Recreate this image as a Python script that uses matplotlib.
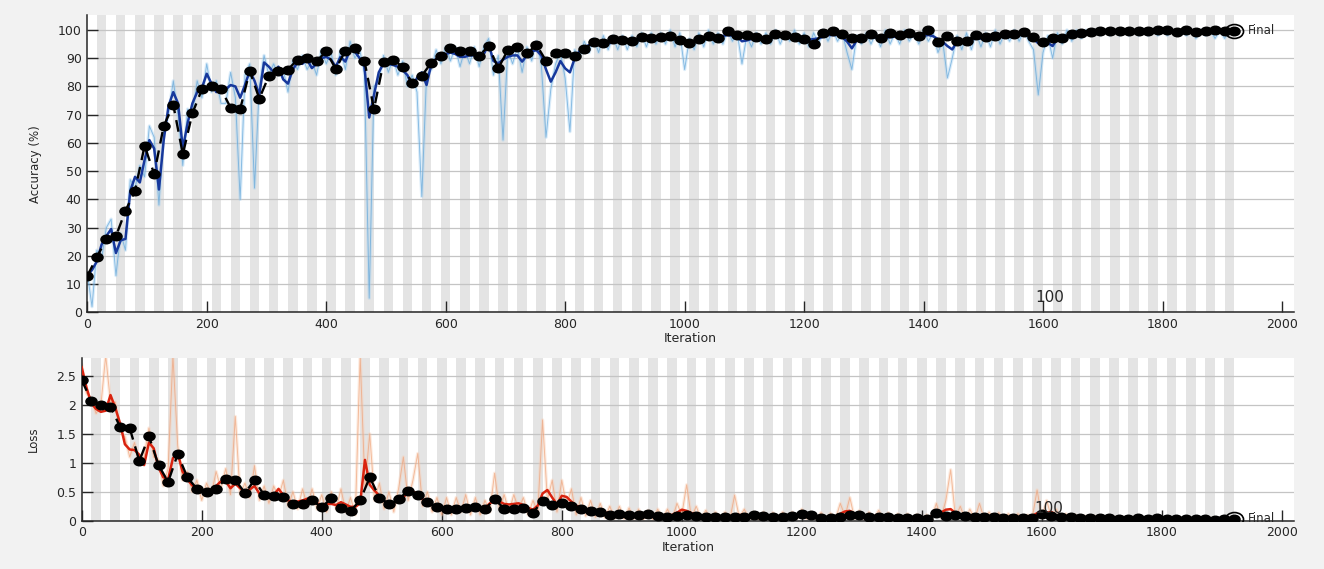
import numpy as np
import matplotlib.pyplot as plt
from matplotlib.path import Path

plt.rcParams['font.family'] = ['DejaVu Sans']

iters_per_epoch = 16
n_epochs = 120
train_step = 8
val_step = 16
epoch_label = 100

# smoothed training accuracy, one value every 8 iterations
acc_smooth = [
    13, 15, 18, 24, 27, 29.5, 21, 25.5, 26, 43,
    48, 46, 54, 61, 58, 43.5, 61, 73, 78, 74,
    58, 67, 74, 78, 79.5, 84.5, 81, 78, 78.5, 79,
    80.5, 80, 76, 80.5, 85.5, 82, 77, 88.5, 87, 85,
    87, 82.5, 81, 86, 88.5, 88, 89.5, 86.5, 88, 90,
    90.5, 89.5, 87, 90.5, 88.8, 93, 92.3, 90, 87, 69,
    77, 85, 88.2, 88, 87.6, 87, 85.8, 84, 80, 83,
    85, 80.5, 88, 89.8, 90.5, 91.5, 92, 91.5, 90.5, 90.5,
    91, 91, 91, 91.5, 95, 89, 88.2, 89.5, 90.5, 91,
    91, 88.8, 91, 92.5, 92.8, 91, 86, 81.7, 85, 89,
    86.4, 85, 90, 92.5, 93.8, 94.7, 94.7, 94.7, 95, 95.3,
    95.5, 95.9, 95.8, 95.5, 95.3, 96.2, 96.5, 96.8, 97, 97.2,
    97.4, 97.6, 97.3, 96.8, 96.5, 96, 95.3, 95.8, 96.5, 96.8,
    97.1, 97.3, 97.6, 97.9, 98.2, 98, 97.6, 96, 96.3, 96.8,
    97, 97, 97, 97.3, 97.6, 97.6, 97.6, 97.6, 97.6, 97.4,
    96.8, 96.5, 96.8, 97, 97.6, 98.2, 98.2, 98.2, 97.5, 95.9,
    93.5, 96.3, 97.3, 97.6, 97.4, 97.3, 97, 97.2, 97.5, 97.6,
    97.7, 97.8, 97.8, 97.8, 97.8, 98, 98.2, 97.8, 96.8, 95.8,
    94.3, 93.1, 95.9, 96.1, 96.2, 96.6, 97, 97, 97, 97.3,
    97.6, 97.7, 97.8, 97.9, 98.1, 98.3, 98.5, 98.4, 96.8, 95.3,
    94.7, 95.5, 94.3, 97, 97.4, 97.8, 98.4, 98.7, 99, 99.1,
    99.2, 99.3, 99.3, 99.4, 99.4, 99.5, 99.5, 99.4, 99.5, 99.5,
    99.6, 99.5, 99.5, 99.6, 99.6, 99.6, 99.7, 99.6, 99.6, 99.6,
    99.7, 99.6, 99.6, 99.7, 99.7, 99.7, 99.6, 99.7, 99.7, 99.7,
    99.7,
]

# raw training accuracy, one value every 8 iterations
acc_raw = [
    14, 2, 22, 19, 30, 33, 13, 28, 22, 47,
    44, 52, 48, 66, 62, 38, 64, 70, 82, 70,
    52, 72, 70, 82, 76, 88, 78, 82, 74, 74,
    85, 76, 40, 84, 88, 44, 80, 91, 84, 88,
    84, 86, 78, 89, 86, 91, 86, 89, 84, 93,
    88, 92, 84, 93, 86, 96, 90, 93, 85, 5,
    80, 82, 91, 85, 90, 84, 89, 80, 84, 78,
    41, 84, 86, 93, 88, 94, 89, 94, 87, 93,
    88, 94, 87, 94, 97, 84, 91, 61, 93, 88,
    94, 85, 94, 89, 96, 88, 62, 79, 88, 92,
    83, 64, 93, 90, 96, 92, 97, 92, 98, 93,
    98, 93, 98, 93, 98, 94, 99, 94, 99, 95,
    99, 95, 100, 94, 99, 86, 97, 93, 99, 94,
    100, 95, 99, 95, 100, 96, 99, 88, 98, 94,
    99, 95, 99, 95, 100, 95, 99, 96, 100, 95,
    99, 94, 99, 95, 100, 96, 100, 96, 99, 92,
    86, 98, 95, 99, 95, 99, 94, 100, 95, 99,
    95, 100, 96, 99, 95, 100, 96, 99, 92, 96,
    83, 90, 98, 93, 99, 93, 99, 94, 99, 94,
    100, 95, 99, 96, 100, 96, 100, 96, 93, 77,
    92, 98, 90, 99, 95, 100, 96, 100, 97, 100,
    98, 100, 98, 100, 98, 100, 98, 100, 98, 100,
    98, 100, 98, 100, 98, 100, 98, 100, 98, 100,
    98, 100, 97, 100, 98, 100, 97, 100, 97, 100,
    99,
]

# validation accuracy, once per epoch
val_acc = [
    12.9, 19.5, 26, 27, 36, 43, 59, 49, 66, 73.5,
    56, 70.5, 79, 80, 79, 72.5, 72, 85.5, 75.7, 83.7,
    85.5, 86, 89.5, 90, 89, 92.4, 86.2, 92.6, 93.5, 89,
    72, 88.7, 89.4, 87, 81.2, 83.8, 88.4, 90.9, 93.7, 92.7,
    92.5, 90.9, 94.3, 86.4, 92.9, 94.1, 91.7, 94.7, 89.1, 92,
    92, 90.9, 93.1, 95.8, 95.3, 96.8, 96.4, 96.1, 97.6, 97,
    97.6, 97.8, 96.4, 95.5, 96.8, 97.9, 97.3, 99.7, 98.3, 98.4,
    97.4, 96.7, 98.5, 98.2, 97.6, 96.8, 95.2, 98.9, 99.5, 98.5,
    97.2, 97.1, 98.5, 97.2, 98.8, 98.2, 98.8, 97.9, 99.9, 95.9,
    97.9, 96.1, 96.2, 98.2, 97.6, 97.9, 98.6, 98.6, 99.4, 97.4,
    95.6, 97.2, 97.2, 98.6, 99.1, 99.4, 99.7, 99.7, 99.7, 99.6,
    99.7, 99.7, 99.9, 100, 99.3, 100, 99.3, 99.6, 100, 99.7,
    99.7,
]

loss_smooth = [
    2.65, 2.3, 2.03, 1.93, 1.88, 1.9, 2.17, 1.95, 1.68, 1.32,
    1.23, 1.22, 1.14, 0.96, 1.35, 1.25, 0.92, 0.75, 0.71, 1.08,
    1.17, 0.85, 0.72, 0.61, 0.55, 0.52, 0.5, 0.52, 0.6, 0.68,
    0.68, 0.56, 0.64, 0.56, 0.5, 0.54, 0.6, 0.47, 0.44, 0.44,
    0.44, 0.55, 0.44, 0.35, 0.33, 0.33, 0.35, 0.38, 0.36, 0.3,
    0.27, 0.29, 0.29, 0.27, 0.32, 0.28, 0.24, 0.24, 0.3, 1.05,
    0.62, 0.52, 0.43, 0.34, 0.27, 0.31, 0.36, 0.39, 0.53, 0.5,
    0.46, 0.37, 0.32, 0.27, 0.25, 0.23, 0.22, 0.21, 0.22, 0.23,
    0.24, 0.24, 0.23, 0.23, 0.21, 0.3, 0.35, 0.33, 0.29, 0.28,
    0.29, 0.3, 0.27, 0.22, 0.19, 0.26, 0.47, 0.53, 0.4, 0.28,
    0.43, 0.41, 0.33, 0.26, 0.22, 0.2, 0.19, 0.17, 0.15, 0.14,
    0.13, 0.12, 0.12, 0.11, 0.11, 0.1, 0.09, 0.08, 0.08, 0.08,
    0.08, 0.09, 0.09, 0.1, 0.14, 0.19, 0.17, 0.13, 0.11, 0.09,
    0.08, 0.08, 0.07, 0.07, 0.06, 0.07, 0.08, 0.1, 0.09, 0.08,
    0.07, 0.07, 0.07, 0.06, 0.06, 0.07, 0.07, 0.07, 0.07, 0.08,
    0.09, 0.08, 0.07, 0.07, 0.06, 0.06, 0.06, 0.07, 0.12, 0.16,
    0.17, 0.11, 0.08, 0.07, 0.07, 0.08, 0.08, 0.07, 0.07, 0.06,
    0.06, 0.06, 0.06, 0.06, 0.05, 0.05, 0.05, 0.08, 0.11, 0.14,
    0.19, 0.2, 0.13, 0.1, 0.09, 0.09, 0.08, 0.08, 0.07, 0.07,
    0.07, 0.06, 0.06, 0.06, 0.05, 0.05, 0.05, 0.05, 0.08, 0.13,
    0.15, 0.14, 0.15, 0.09, 0.07, 0.06, 0.05, 0.05, 0.04, 0.04,
    0.04, 0.04, 0.04, 0.04, 0.03, 0.04, 0.04, 0.03, 0.04, 0.03,
    0.03, 0.04, 0.03, 0.03, 0.03, 0.03, 0.03, 0.03, 0.03, 0.03,
    0.03, 0.03, 0.03, 0.03, 0.03, 0.03, 0.03, 0.03, 0.03, 0.03,
    0.03,
]

loss_raw = [
    2.7, 2.2, 2.1, 1.85, 2.0, 2.85, 2.05, 2.05, 1.55, 1.45,
    1.1, 1.35, 1.0, 1.1, 1.6, 1.1, 1.05, 0.6, 0.9, 2.85,
    1.3, 0.7, 0.85, 0.5, 0.7, 0.35, 0.65, 0.45, 0.85, 0.55,
    0.9, 0.45, 1.8, 0.45, 0.65, 0.4, 0.95, 0.35, 0.6, 0.3,
    0.6, 0.4, 0.7, 0.25, 0.5, 0.2, 0.55, 0.25, 0.55, 0.2,
    0.45, 0.15, 0.5, 0.2, 0.55, 0.15, 0.4, 0.1, 2.85, 0.6,
    1.5, 0.35, 0.65, 0.2, 0.5, 0.15, 0.55, 1.1, 0.35, 0.7,
    1.16, 0.25, 0.5, 0.15, 0.4, 0.1, 0.4, 0.1, 0.4, 0.15,
    0.45, 0.1, 0.4, 0.1, 0.35, 0.15, 0.82, 0.2, 0.45, 0.15,
    0.45, 0.2, 0.4, 0.1, 0.35, 0.15, 1.74, 0.35, 0.7, 0.15,
    0.7, 0.25, 0.55, 0.1, 0.4, 0.08, 0.35, 0.06, 0.3, 0.05,
    0.25, 0.04, 0.25, 0.03, 0.22, 0.03, 0.2, 0.02, 0.18, 0.02,
    0.2, 0.03, 0.2, 0.03, 0.3, 0.1, 0.62, 0.05, 0.25, 0.03,
    0.18, 0.02, 0.15, 0.02, 0.15, 0.02, 0.44, 0.05, 0.2, 0.02,
    0.15, 0.02, 0.15, 0.02, 0.14, 0.02, 0.15, 0.02, 0.15, 0.03,
    0.2, 0.03, 0.15, 0.02, 0.14, 0.02, 0.13, 0.02, 0.3, 0.08,
    0.4, 0.03, 0.18, 0.02, 0.15, 0.02, 0.18, 0.02, 0.14, 0.02,
    0.12, 0.01, 0.12, 0.01, 0.11, 0.01, 0.1, 0.02, 0.3, 0.05,
    0.35, 0.88, 0.05, 0.25, 0.02, 0.2, 0.02, 0.3, 0.02, 0.15,
    0.01, 0.14, 0.01, 0.12, 0.01, 0.12, 0.01, 0.1, 0.05, 0.53,
    0.05, 0.35, 0.05, 0.2, 0.02, 0.12, 0.01, 0.1, 0.01, 0.08,
    0.01, 0.08, 0.01, 0.07, 0.01, 0.07, 0.01, 0.06, 0.01, 0.06,
    0.01, 0.05, 0.01, 0.05, 0.01, 0.05, 0.01, 0.05, 0.01, 0.05,
    0.01, 0.05, 0.01, 0.05, 0.01, 0.05, 0.01, 0.05, 0.01, 0.05,
    0.03,
]

val_loss = [
    2.43, 2.07, 1.99, 1.97, 1.62, 1.60, 1.03, 1.46, 0.96, 0.67,
    1.15, 0.75, 0.55, 0.49, 0.55, 0.72, 0.70, 0.48, 0.70, 0.44,
    0.42, 0.41, 0.29, 0.29, 0.35, 0.23, 0.39, 0.22, 0.17, 0.35,
    0.75, 0.40, 0.29, 0.37, 0.52, 0.44, 0.32, 0.24, 0.21, 0.21,
    0.22, 0.23, 0.20, 0.37, 0.21, 0.21, 0.22, 0.14, 0.34, 0.27,
    0.31, 0.26, 0.20, 0.17, 0.15, 0.09, 0.12, 0.10, 0.09, 0.11,
    0.08, 0.07, 0.08, 0.10, 0.08, 0.07, 0.06, 0.06, 0.07, 0.07,
    0.09, 0.08, 0.06, 0.07, 0.08, 0.11, 0.10, 0.05, 0.05, 0.06,
    0.10, 0.09, 0.06, 0.06, 0.07, 0.05, 0.04, 0.04, 0.03, 0.13,
    0.08, 0.09, 0.08, 0.07, 0.06, 0.06, 0.05, 0.05, 0.04, 0.05,
    0.11, 0.08, 0.07, 0.06, 0.05, 0.04, 0.04, 0.04, 0.03, 0.03,
    0.04, 0.03, 0.04, 0.03, 0.03, 0.03, 0.03, 0.03, 0.02, 0.03,
    0.03,
]

acc_ticks = list(range(0, 101, 10))
loss_ticks = [0, 0.5, 1, 1.5, 2, 2.5]
loss_tick_labels = ['0', '0.5', '1', '1.5', '2', '2.5']
iter_ticks = list(range(0, 2001, 200))

it_train = np.arange(len(acc_smooth)) * train_step
it_val = np.arange(len(val_acc)) * val_step
last_iter = n_epochs * iters_per_epoch

txt = '#262626'

# the screenshot is stretched sideways, so the dots come out as ellipses
circ = Path.unit_circle()
dot = Path(circ.vertices * np.array([1.3, 1.0]), circ.codes)

fig = plt.figure(figsize=(13.24, 5.69), dpi=100, facecolor='#f2f2f2')
ax1 = fig.add_axes([0.0659, 0.4511, 0.9114, 0.5225])
ax2 = fig.add_axes([0.0617, 0.0849, 0.9156, 0.2854])


def setup(ax, ymax, ticks, labels):
    ax.set_facecolor('white')
    for k in range(1, n_epochs, 2):
        ax.axvspan(k * iters_per_epoch, (k + 1) * iters_per_epoch,
                   color='#e4e4e4', lw=0, zorder=0.2)
    ax.set_xlim(0, 2020)
    ax.set_ylim(0, ymax)
    ax.set_xticks(iter_ticks)
    ax.set_yticks(ticks)
    ax.set_yticklabels(labels)
    ax.grid(axis='y', color='#c4c4c4', lw=0.9)
    ax.set_axisbelow(True)
    for s in ['top', 'right']:
        ax.spines[s].set_visible(False)
    for s in ['left', 'bottom']:
        ax.spines[s].set_color(txt)
        ax.spines[s].set_linewidth(1.1)
    ax.tick_params(direction='in', length=8, width=1, colors=txt,
                   labelsize=9, pad=4)
    ax.set_xlabel('Iteration', fontsize=9, color=txt)


setup(ax1, 105.3, acc_ticks, [str(t) for t in acc_ticks])
setup(ax2, 2.805, loss_ticks, loss_tick_labels)

# accuracy
ax1.plot(it_train, acc_raw, color='#a6d0f0', lw=2.4, alpha=0.4, zorder=2)
ax1.plot(it_train, acc_raw, color='#5aa2d8', lw=0.7, alpha=0.65, zorder=2)
ax1.plot(it_train, acc_smooth, color='#17389c', lw=1.8, zorder=3)
ax1.plot(it_val, val_acc, color='black', lw=1.7, ls=(0, (5, 3)),
         marker=dot, ms=8, zorder=4)
ax1.plot(last_iter, val_acc[-1], marker=dot, ms=13, mfc='none', mec='black',
         mew=1.2, ls='none', zorder=5)
ax1.annotate('Final', (last_iter, val_acc[-1]), xytext=(10, 0),
             textcoords='offset points', va='center', fontsize=8.5, color=txt)
ax1.text(epoch_label * iters_per_epoch - 13, 3.75, str(epoch_label),
         fontsize=11, color=txt, va='baseline', zorder=6)
ax1.set_ylabel('Accuracy (%)', fontsize=8.5, color=txt)
ax1.yaxis.set_label_coords(-0.0378, 0.5)
ax1.xaxis.set_label_coords(0.5, -0.0864)
ax1.xaxis.label.set_va('center')

# loss
ax2.plot(it_train, loss_raw, color='#f9cdb2', lw=2.4, alpha=0.4, zorder=2)
ax2.plot(it_train, loss_raw, color='#ee9a6c', lw=0.7, alpha=0.6, zorder=2)
ax2.plot(it_train, loss_smooth, color='#d9230f', lw=1.8, zorder=3)
ax2.plot(it_val, val_loss, color='black', lw=1.7, ls=(0, (5, 3)),
         marker=dot, ms=8, zorder=4)
ax2.plot(last_iter, val_loss[-1], marker=dot, ms=13, mfc='none', mec='black',
         mew=1.2, ls='none', zorder=5)
ax2.annotate('Final', (last_iter, val_loss[-1]), xytext=(10, 0),
             textcoords='offset points', va='center', fontsize=8.5, color=txt)
ax2.text(epoch_label * iters_per_epoch - 13, 0.13, str(epoch_label),
         fontsize=11, color=txt, va='baseline', zorder=6)
ax2.set_ylabel('Loss', fontsize=8.5, color=txt)
ax2.yaxis.set_label_coords(-0.0344, 0.5)
ax2.xaxis.set_label_coords(0.5, -0.168)
ax2.xaxis.label.set_va('center')

fig.savefig('out.png', dpi=100, facecolor=fig.get_facecolor())
